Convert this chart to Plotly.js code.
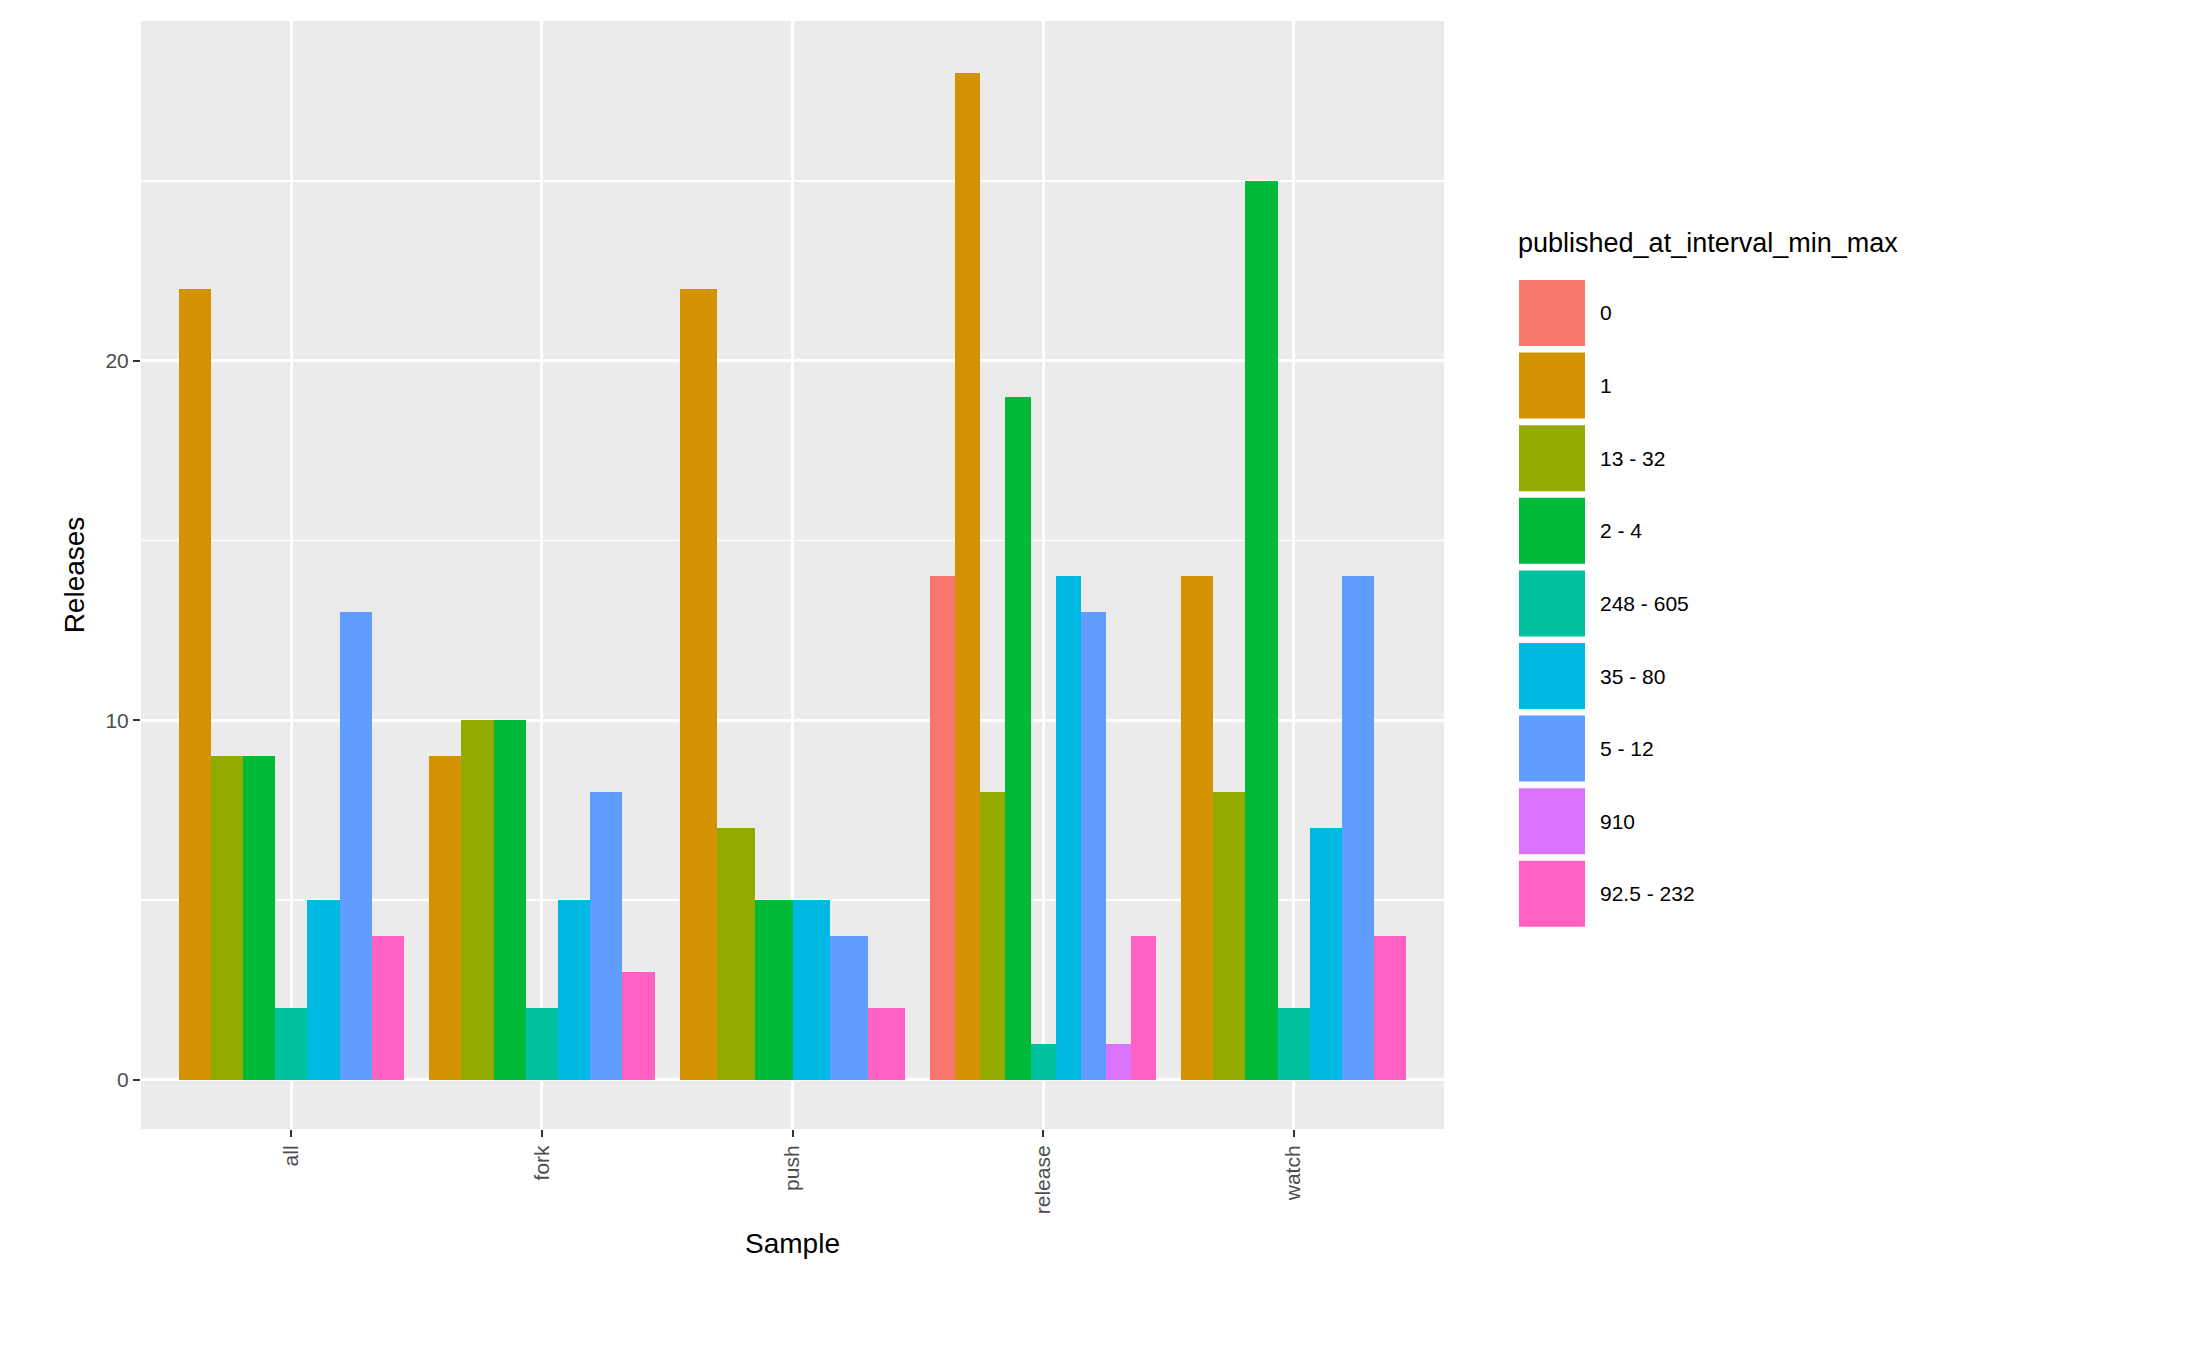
<!DOCTYPE html>
<html>
<head>
<meta charset="utf-8">
<script src="https://cdn.plot.ly/plotly-3.0.1.min.js"></script>
<style>body{margin:0;background:#fff}#chart{width:2187px;height:1350px}</style>
</head>
<body>
<div id="chart"></div>
<script>
const samples = ["all", "fork", "push", "release", "watch"];
const groups = ["0", "1", "13 - 32", "2 - 4", "248 - 605", "35 - 80", "5 - 12", "910", "92.5 - 232"];
const colors = ["#F8766D", "#D39200", "#93AA00", "#00BA38", "#00C19F", "#00B9E3", "#619CFF", "#DB72FB", "#FF61C3"];
// null = group absent for that sample
const values = {
    "0":          [null, null, null, 14, null],
    "1":          [22, 9, 22, 28, 14],
    "13 - 32":    [9, 10, 7, 8, 8],
    "2 - 4":      [9, 10, 5, 19, 25],
    "248 - 605":  [2, 2, null, 1, 2],
    "35 - 80":    [5, 5, 5, 14, 7],
    "5 - 12":     [13, 8, 4, 13, 14],
    "910":        [null, null, null, 1, null],
    "92.5 - 232": [4, 3, 2, 4, 4],
};

const totalWidth = 0.9;
// ggplot dodge: bar width depends on how many groups are present per sample
const present = samples.map((s, i) => groups.filter((g) => values[g][i] !== null));

const traces = groups.map((g, gi) => {
    const x = [], y = [], width = [], offset = [];
    samples.forEach((s, i) => {
        const v = values[g][i];
        if (v === null) return;
        const n = present[i].length;
        const k = present[i].indexOf(g);
        const w = totalWidth / n;
        x.push(i); y.push(v); width.push(w); offset.push(-totalWidth / 2 + k * w);
    });
    return { type: "bar", name: g, x, y, width, offset, marker: { color: colors[gi], line: { width: 0 } }, showlegend: false };
});

const W = 2187, H = 1350, L = 141, R = 1444, T = 21, B = 1129;
const px = (v) => (v - L) / (R - L);
const py = (v) => 1 - (v - T) / (B - T);

const shapes = [], annotations = [];
annotations.push({ xref: "paper", yref: "paper", x: px(1516), y: py(243), xanchor: "left", yanchor: "middle",
    text: "published_at_interval_min_max", showarrow: false, font: { size: 27, color: "#000" } });
groups.forEach((g, i) => {
    const top = 280 + i * 72.6;
    shapes.push({ type: "rect", xref: "paper", yref: "paper", x0: px(1519), x1: px(1585), y0: py(top), y1: py(top + 66),
        fillcolor: colors[i], line: { width: 0 } });
    annotations.push({ xref: "paper", yref: "paper", x: px(1598), y: py(top + 33), xanchor: "left", yanchor: "middle",
        text: g, showarrow: false, font: { size: 21, color: "#000" } });
});

const layout = {
    width: W, height: H,
    margin: { l: L, r: W - R, t: T, b: H - B },
    paper_bgcolor: "#fff", plot_bgcolor: "#EBEBEB",
    barmode: "overlay", bargap: 0,
    font: { family: "Liberation Sans, Arial, sans-serif", color: "#4D4D4D" },
    xaxis: {
        range: [-0.6, 4.6], tickvals: [0, 1, 2, 3, 4], ticktext: samples, tickangle: -90,
        showgrid: true, gridcolor: "#fff", gridwidth: 3, zeroline: false,
        ticks: "outside", ticklen: 7, tickwidth: 2, tickcolor: "#333", tickfont: { size: 21, color: "#4D4D4D" },
        title: { text: "Sample", font: { size: 28, color: "#000" }, standoff: 20 },
    },
    yaxis: {
        range: [-1.37, 29.45], tickvals: [0, 10, 20],
        showgrid: true, gridcolor: "#fff", gridwidth: 3, zeroline: false,
        minor: { tickvals: [5, 15, 25], showgrid: true, gridcolor: "#fff", gridwidth: 1.5 },
        ticks: "outside", ticklen: 7, tickwidth: 2, tickcolor: "#333", tickfont: { size: 21, color: "#4D4D4D" },
        title: { text: "Releases", font: { size: 28, color: "#000" }, standoff: 12 },
    },
    shapes, annotations,
};

Plotly.newPlot("chart", traces, layout, { displayModeBar: false, staticPlot: true });
</script>
</body>
</html>
